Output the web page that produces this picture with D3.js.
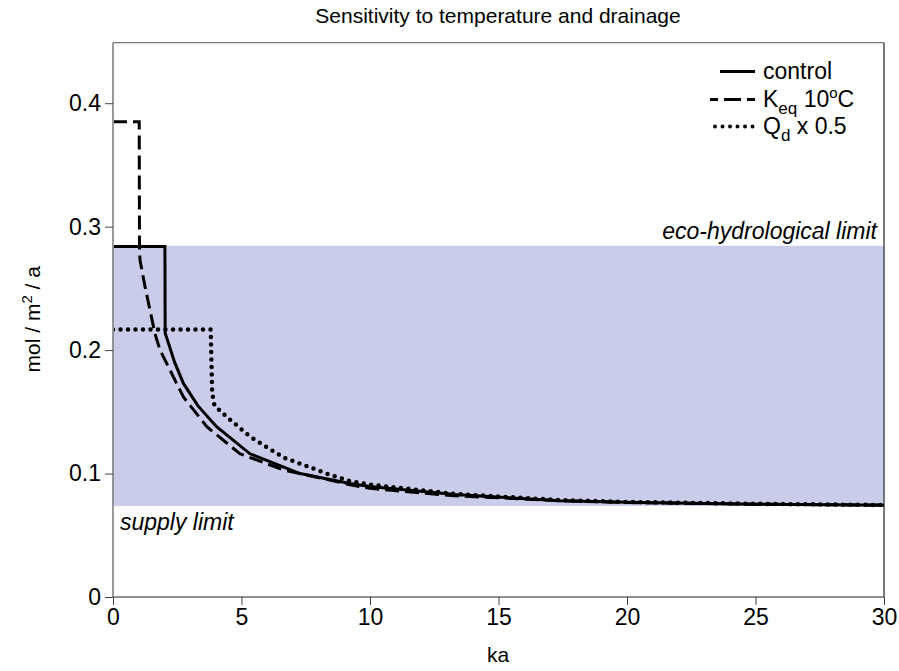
<!DOCTYPE html>
<html>
<head>
<meta charset="utf-8">
<script src="https://cdn.jsdelivr.net/npm/d3@7"></script>
<style>
  body { margin: 0; background: #fff; }
  text { font-family: "Liberation Sans", Arial, sans-serif; }
</style>
</head>
<body>
<svg width="899" height="671"></svg>
<script>
// values (t in ka, v in mol/m2/a)
var controlT = [0, 2.02, 2.03, 2.09, 2.4, 2.74, 3.3, 4.03, 5.33, 7.28, 9.22, 10, 13.3, 17.4, 20, 25, 30];
var controlV = [0.284, 0.284, 0.2136, 0.21, 0.19, 0.173, 0.155, 0.138, 0.116, 0.100, 0.092, 0.0895, 0.083, 0.078, 0.0768, 0.0752, 0.0744];

var keqT = [0, 1.02, 1.03, 1.05, 1.25, 1.63, 1.83, 2.74, 3.65, 4.94, 6.63, 9.22, 10, 13.3, 17.4, 20, 25, 30];
var keqV = [0.385, 0.385, 0.285, 0.273, 0.251, 0.2136, 0.200, 0.162, 0.138, 0.116, 0.103, 0.091, 0.088, 0.082, 0.078, 0.0765, 0.0752, 0.0744];

var qdT = [0, 3.8, 3.82, 3.86, 3.95, 4.42, 5.33, 6.63, 7.93, 8.44, 9.22, 10, 13.3, 17.4, 20, 25, 30];
var qdV = [0.2166, 0.2166, 0.2, 0.165, 0.155, 0.146, 0.130, 0.113, 0.103, 0.099, 0.094, 0.091, 0.0835, 0.0785, 0.077, 0.0755, 0.0745];

var bandLow = 0.0738, bandHigh = 0.2845;
var xTicks = [0, 5, 10, 15, 20, 25, 30];
var yTicks = [0, 0.1, 0.2, 0.3, 0.4];

var svg = d3.select("svg"),
    margin = {top: 42.7, right: 15, bottom: 74, left: 113},
    width = 899 - margin.left - margin.right,
    height = 671 - margin.top - margin.bottom,
    g = svg.append("g").attr("transform", "translate(" + margin.left + "," + margin.top + ")");

var x = d3.scaleLinear().domain([0, 30]).range([0, width]);
var y = d3.scaleLinear().domain([0, 0.449]).range([height, 0]);

// shaded band
g.append("rect")
    .attr("x", x(0)).attr("width", x(30) - x(0))
    .attr("y", y(bandHigh)).attr("height", y(bandLow) - y(bandHigh))
    .style("fill", "#c9cde9");

g.append("text").attr("x", x(30) - 7).attr("y", y(bandHigh) - 7)
    .attr("text-anchor", "end").style("font-style", "italic").style("font-size", "23px")
    .text("eco-hydrological limit");
g.append("text").attr("x", x(0) + 7).attr("y", y(bandLow) + 24)
    .style("font-style", "italic").style("font-size", "23px")
    .text("supply limit");

function pts(ts, vs) { return ts.map(function(t, i) { return [t, vs[i]]; }); }

var line = d3.line()
    .x(function(d) { return x(d[0]); })
    .y(function(d) { return y(d[1]); })
    .curve(d3.curveLinear);

var series = [
  {id: "control", data: pts(controlT, controlV), dash: null, w: 3, cap: "butt"},
  {id: "keq", data: pts(keqT, keqV), dash: "14,6", w: 3, cap: "butt"},
  {id: "qd", data: pts(qdT, qdV), dash: "0,7.5", w: 4.5, cap: "round"}
];

g.append("defs").append("clipPath").attr("id", "clip")
    .append("rect").attr("x", 1).attr("width", width - 1).attr("height", height);

g.append("g").attr("clip-path", "url(#clip)").selectAll("path")
    .data(series).enter().append("path")
    .attr("d", function(d) { return line(d.data); })
    .style("fill", "none").style("stroke", "#000")
    .style("stroke-width", function(d) { return d.w; })
    .style("stroke-dasharray", function(d) { return d.dash; })
    .style("stroke-linecap", function(d) { return d.cap; });

// frame
g.append("line").attr("x1", 0).attr("x2", width).attr("y1", 0).attr("y2", 0).style("stroke", "#777").style("stroke-width", 1.2);
g.append("line").attr("x1", width).attr("x2", width).attr("y1", 0).attr("y2", height).style("stroke", "#222").style("stroke-width", 1.2);

// axes
var xAxis = g.append("g").attr("transform", "translate(0," + height + ")")
    .call(d3.axisBottom(x).tickValues(xTicks).tickSize(8).tickPadding(4).tickFormat(d3.format("d")));
var yAxis = g.append("g")
    .call(d3.axisLeft(y).tickValues(yTicks).tickSize(8).tickPadding(4).tickFormat(function(d) { return d === 0 ? "0" : d3.format(".1f")(d); }));

xAxis.select(".domain").attr("d", "M0,0H" + width).style("stroke", "#222").style("stroke-width", 1.2);
yAxis.select(".domain").attr("d", "M0," + height + "V0").style("stroke", "#777").style("stroke-width", 1.5);
svg.selectAll(".tick line").style("stroke", "#444");
svg.selectAll(".tick text").style("font-size", "23px").style("font-family", "Liberation Sans, Arial, sans-serif").style("fill", "#000");

// labels
svg.append("text").attr("x", 498).attr("y", 23).attr("text-anchor", "middle")
    .style("font-size", "21px").text("Sensitivity to temperature and drainage");
svg.append("text").attr("x", 498).attr("y", 662).attr("text-anchor", "middle")
    .style("font-size", "21px").text("ka");
var yl = svg.append("text").attr("transform", "translate(40," + (margin.top + y(0.225)) + ") rotate(-90)")
    .attr("text-anchor", "middle").style("font-size", "21px");
yl.append("tspan").text("mol / m");
yl.append("tspan").attr("dy", -8).style("font-size", "15px").text("2");
yl.append("tspan").attr("dy", 8).text(" / a");

// legend
var legend = svg.append("g");
var rows = [
  {y: 71.5, dash: null, w: 3, cap: "butt", x1: 720, off: 0},
  {y: 99.5, dash: "17,6", w: 3, cap: "butt", x1: 710, off: 9},
  {y: 126.5, dash: "0,7.5", w: 4, cap: "round", x1: 715, off: 0}
];
legend.selectAll("line").data(rows).enter().append("line")
    .attr("x1", function(d) { return d.x1; }).attr("x2", 755)
    .attr("y1", function(d) { return d.y; }).attr("y2", function(d) { return d.y; })
    .style("stroke", "#000").style("stroke-width", function(d) { return d.w; })
    .style("stroke-dasharray", function(d) { return d.dash; })
    .style("stroke-dashoffset", function(d) { return d.off; })
    .style("stroke-linecap", function(d) { return d.cap; });

legend.append("text").attr("x", 763).attr("y", 79).style("font-size", "23px").text("control");
var t2 = legend.append("text").attr("x", 763).attr("y", 107).style("font-size", "23px");
t2.append("tspan").text("K");
t2.append("tspan").attr("dy", 7).style("font-size", "17px").text("eq");
t2.append("tspan").attr("dy", -7).text(" 10");
t2.append("tspan").attr("dy", -9).style("font-size", "15px").text("o");
t2.append("tspan").attr("dy", 9).text("C");
var t3 = legend.append("text").attr("x", 763).attr("y", 134).style("font-size", "23px");
t3.append("tspan").text("Q");
t3.append("tspan").attr("dy", 7).style("font-size", "17px").text("d");
t3.append("tspan").attr("dy", -7).text(" x 0.5");
</script>
</body>
</html>
